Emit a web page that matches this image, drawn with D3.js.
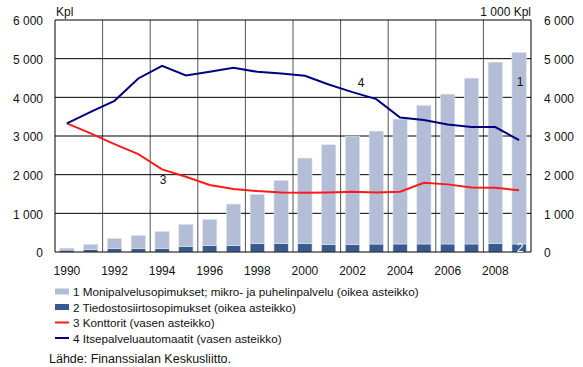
<!DOCTYPE html>
<html>
<head>
<meta charset="utf-8">
<script src="https://cdn.jsdelivr.net/npm/d3@7"></script>
<style>
  body { margin: 0; background: #fff; }
  text { font-family: "Liberation Sans", Arial, sans-serif; fill: #111; }
</style>
</head>
<body>
<svg id="chart" width="583" height="367"></svg>
<script>
var years = d3.range(1990, 2010);
var yearLabels = ["1990", "1992", "1994", "1996", "1998", "2000", "2002", "2004", "2006", "2008"];
var yTicks = [0, 1000, 2000, 3000, 4000, 5000, 6000];

// 1000 Kpl, right axis
var tiedosto = [50, 70, 95, 95, 95, 137, 163, 163, 215, 215, 215, 190, 190, 206, 207, 207, 207, 207, 224, 207];
var monipalveluTotal = [100, 200, 350, 430, 530, 716, 845, 1240, 1490, 1853, 2429, 2773, 2997, 3127, 3437, 3790, 4083, 4496, 4910, 5160];
var monipalvelu = monipalveluTotal.map(function(v, i) { return v - tiedosto[i]; });

// Kpl, left axis
var konttorit = [3326, 3070, 2790, 2532, 2136, 1946, 1731, 1628, 1576, 1542, 1533, 1542, 1559, 1542, 1559, 1791, 1749, 1671, 1662, 1594];
var automaatit = [3326, 3626, 3910, 4488, 4814, 4565, 4659, 4762, 4659, 4617, 4556, 4333, 4134, 3953, 3480, 3411, 3300, 3230, 3230, 2894];

var legendItems = [
  { label: "1 Monipalvelusopimukset; mikro- ja puhelinpalvelu (oikea asteikko)", type: "bar", color: "#b3bdd5" },
  { label: "2 Tiedostosiirtosopimukset (oikea asteikko)", type: "bar", color: "#375b8e" },
  { label: "3 Konttorit (vasen asteikko)", type: "line", color: "#ff1a1a" },
  { label: "4 Itsepalveluautomaatit (vasen asteikko)", type: "line", color: "#000080" }
];

var svg = d3.select("#chart");
var mLeft = 55, mRight = 531, mTop = 20, mBottom = 252;

var x = d3.scaleBand().domain(years).range([mLeft, mRight]).paddingInner(0.4).paddingOuter(0.2);
var xc = function(d) { return x(d) + x.bandwidth() / 2; };
var yL = d3.scaleLinear().domain([0, 6000]).range([mBottom, mTop]);
var yR = d3.scaleLinear().domain([0, 6000]).range([mBottom, mTop]);

// vertical gridlines every two years
var step = (mRight - mLeft) / 10;
svg.append("g").selectAll("line")
  .data(d3.range(1, 10))
  .enter().append("line")
    .attr("x1", function(d) { return mLeft + d * step; })
    .attr("x2", function(d) { return mLeft + d * step; })
    .attr("y1", mTop).attr("y2", mBottom)
    .attr("stroke", "#555").attr("stroke-width", 1);

// horizontal gridlines
svg.append("g").selectAll("line")
  .data(yTicks.slice(1))
  .enter().append("line")
    .attr("x1", mLeft).attr("x2", mRight)
    .attr("y1", function(d) { return yL(d); })
    .attr("y2", function(d) { return yL(d); })
    .attr("stroke", "#000").attr("stroke-width", 1);

// stacked bars
var rows = years.map(function(y, i) { return { year: y, tiedosto: tiedosto[i], monipalvelu: monipalvelu[i] }; });
var stack = d3.stack().keys(["tiedosto", "monipalvelu"])(rows);
var barColors = { tiedosto: "#375b8e", monipalvelu: "#b3bdd5" };

svg.append("g").selectAll("g")
  .data(stack)
  .enter().append("g")
    .attr("fill", function(d) { return barColors[d.key]; })
  .selectAll("rect")
  .data(function(d) { return d; })
  .enter().append("rect")
    .attr("x", function(d) { return x(d.data.year); })
    .attr("width", x.bandwidth())
    .attr("y", function(d) { return yR(d[1]); })
    .attr("height", function(d) { return yR(d[0]) - yR(d[1]); })
    .attr("stroke", "#dfe4ee").attr("stroke-width", 0.6);

// lines
var line = d3.line()
  .x(function(d, i) { return xc(years[i]); })
  .y(function(d) { return yL(d); });

svg.append("path").datum(konttorit)
  .attr("d", line).attr("fill", "none")
  .attr("stroke", "#ff1a1a").attr("stroke-width", 2);

svg.append("path").datum(automaatit)
  .attr("d", line).attr("fill", "none")
  .attr("stroke", "#000080").attr("stroke-width", 2);

// axes frame
svg.append("line").attr("x1", mLeft).attr("x2", mLeft).attr("y1", mTop).attr("y2", mBottom).attr("stroke", "#000");
svg.append("line").attr("x1", mRight).attr("x2", mRight).attr("y1", mTop).attr("y2", mBottom).attr("stroke", "#000");
svg.append("line").attr("x1", mLeft).attr("x2", mRight).attr("y1", mBottom).attr("y2", mBottom).attr("stroke", "#000");

var fmt = function(d) { return d3.format(",")(d).replace(/,/g, " "); };

var leftAxis = svg.append("g").attr("transform", "translate(" + mLeft + ",1)")
  .call(d3.axisLeft(yL).tickValues(yTicks).tickSize(0).tickPadding(12).tickFormat(fmt));
var rightAxis = svg.append("g").attr("transform", "translate(" + mRight + ",1)")
  .call(d3.axisRight(yR).tickValues(yTicks).tickSize(0).tickPadding(13).tickFormat(fmt));
var bottomAxis = svg.append("g").attr("transform", "translate(0," + (mBottom + 1) + ")")
  .call(d3.axisBottom(x).tickValues(yearLabels.map(Number)).tickSize(0).tickPadding(13));

[leftAxis, rightAxis, bottomAxis].forEach(function(a) {
  a.select(".domain").remove();
  a.selectAll("text").attr("font-size", 12).attr("font-family", "Liberation Sans, Arial, sans-serif").attr("fill", "#111");
});

svg.append("text").attr("x", 56).attr("y", 16).attr("font-size", 12).text("Kpl");
svg.append("text").attr("x", 531).attr("y", 16).attr("font-size", 12).attr("text-anchor", "end").text("1 000 Kpl");

// series number labels
svg.append("text").attr("x", 520).attr("y", 86).attr("font-size", 12).attr("text-anchor", "middle").attr("fill", "#333").text("1");
svg.append("text").attr("x", 520).attr("y", 252).attr("font-size", 12).attr("text-anchor", "middle").style("fill", "#fff").text("2");
svg.append("text").attr("x", 163).attr("y", 184).attr("font-size", 12).attr("text-anchor", "middle").attr("fill", "#333").text("3");
svg.append("text").attr("x", 361).attr("y", 87).attr("font-size", 12).attr("text-anchor", "middle").attr("fill", "#333").text("4");

// legend
var legend = svg.append("g").selectAll("g")
  .data(legendItems)
  .enter().append("g")
    .attr("transform", function(d, i) { return "translate(55," + (291.5 + i * 15.5) + ")"; });

legend.filter(function(d) { return d.type == "bar"; })
  .append("rect")
    .attr("x", 0).attr("y", -3).attr("width", 14).attr("height", 6)
    .attr("fill", function(d) { return d.color; });

legend.filter(function(d) { return d.type == "line"; })
  .append("line")
    .attr("x1", 0).attr("x2", 14).attr("y1", 0).attr("y2", 0)
    .attr("stroke", function(d) { return d.color; }).attr("stroke-width", 2);

legend.append("text")
  .attr("x", 18).attr("y", 4.5)
  .attr("font-size", 11.7)
  .text(function(d) { return d.label; });

svg.append("text").attr("x", 49).attr("y", 363).attr("font-size", 12.5).text("Lähde: Finanssialan Keskusliitto.");
</script>
</body>
</html>
